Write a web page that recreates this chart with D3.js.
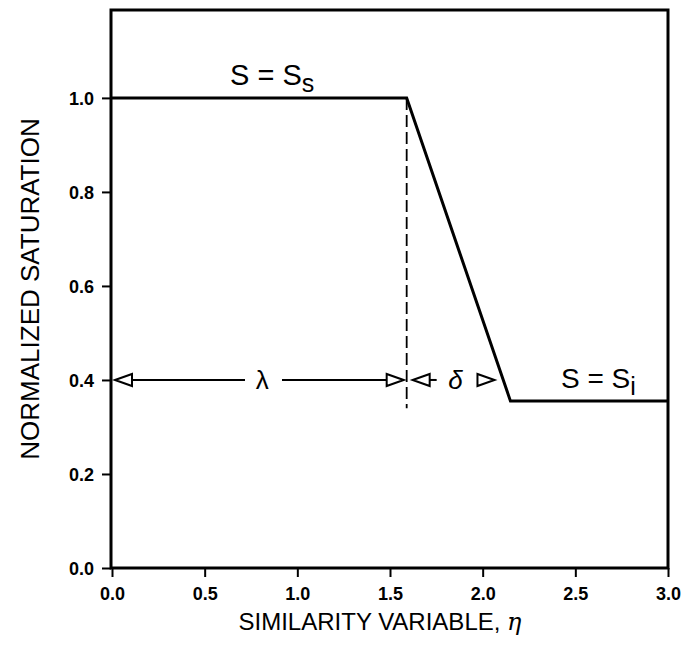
<!DOCTYPE html>
<html><head><meta charset="utf-8">
<script src="https://cdn.jsdelivr.net/npm/d3@7"></script>
<style>body{margin:0;background:#fff}</style>
</head><body><svg id="c" width="692" height="647"></svg>
<script>
const etaPts = [0.0, 1.59, 2.15, 3.0];
const satPts = [1.0, 1.0, 0.355, 0.355];
const xTicks = [0.0, 0.5, 1.0, 1.5, 2.0, 2.5, 3.0];
const yTicks = [0.0, 0.2, 0.4, 0.6, 0.8, 1.0];
const frontEta = 1.59, tailEta = 2.15, arrowSat = 0.4;

const svg = d3.select("#c");
const W = 692, H = 647;
const m = {l:111, r:24, t:10, b:79};
const x = d3.scaleLinear().domain([0,3]).range([m.l+1, W-m.r]);
const y = d3.scaleLinear().domain([0,1.187]).range([H-m.b, m.t]);
const font = "'Liberation Sans', Arial, sans-serif";

// frame
svg.append("rect").attr("x", x(0)-1).attr("y", y(1.187)).attr("width", x(3)-x(0)+1).attr("height", y(0)-y(1.187))
  .attr("fill","none").attr("stroke","#000").attr("stroke-width",3);

// axes
const xa = svg.append("g").attr("transform",`translate(0,${y(0)})`)
  .call(d3.axisBottom(x).tickValues(xTicks).tickFormat(d3.format(".1f")).tickSize(9).tickPadding(6));
const ya = svg.append("g").attr("transform",`translate(${x(0)-1},0)`)
  .call(d3.axisLeft(y).tickValues(yTicks).tickFormat(d3.format(".1f")).tickSize(9).tickPadding(8));
[xa,ya].forEach(g=>{
  g.select(".domain").remove();
  g.selectAll("line").attr("stroke","#000").attr("stroke-width",2);
  g.selectAll("text").attr("font-family",font).attr("font-size",18).attr("font-weight","bold").attr("fill","#000");
});
xa.selectAll("text").attr("dy","0.95em");
ya.selectAll("text").attr("dy","0.35em");

// curve
svg.append("path").datum(d3.zip(etaPts, satPts))
  .attr("d", d3.line().x(d=>x(d[0])).y(d=>y(d[1])))
  .attr("fill","none").attr("stroke","#000").attr("stroke-width",3).attr("stroke-linejoin","miter");

// dashed front line
svg.append("line").attr("x1",x(frontEta)).attr("x2",x(frontEta)).attr("y1",y(1.0)).attr("y2",y(0.34))
  .attr("stroke","#000").attr("stroke-width",1.8).attr("stroke-dasharray","12,5");

// arrows
function tri(tipX, yy, dir){ // dir=-1 points left, +1 points right
  const L=17, h=6;
  const bx = tipX - dir*L;
  return `M${tipX},${yy} L${bx},${yy-h} L${bx},${yy+h} Z`;
}
const ay = y(arrowSat);
const ag = svg.append("g").attr("stroke","#000").attr("fill","#fff").attr("stroke-width",2);
// lambda
ag.append("path").attr("d", tri(x(0)+3, ay, -1));
ag.append("line").attr("x1",x(0)+20).attr("x2",245).attr("y1",ay).attr("y2",ay);
ag.append("line").attr("x1",282).attr("x2",x(frontEta)-20).attr("y1",ay).attr("y2",ay);
ag.append("path").attr("d", tri(x(frontEta)-3, ay, 1));
// delta
ag.append("path").attr("d", tri(x(frontEta)+6, ay, -1));
ag.append("line").attr("x1",x(frontEta)+23).attr("x2",x(frontEta)+30).attr("y1",ay).attr("y2",ay);
ag.append("path").attr("d", tri(x(tailEta)-16, ay, 1));

const lab = svg.append("g").attr("font-family",font).attr("fill","#000");
lab.append("text").attr("x",(x(0)+x(frontEta))/2+3).attr("y",ay).attr("dy","0.35em").attr("text-anchor","middle")
  .attr("font-size",26).text("λ");
lab.append("text").attr("x",(x(frontEta)+x(tailEta))/2-3).attr("y",ay).attr("dy","0.35em").attr("text-anchor","middle")
  .attr("font-size",26).attr("font-style","italic").text("δ");

// S labels
const t1 = lab.append("text").attr("x",230).attr("y",85).attr("font-size",29);
t1.append("tspan").text("S = S");
t1.append("tspan").attr("dy",7).attr("font-size",25).text("s");
const t2 = lab.append("text").attr("x",561).attr("y",388).attr("font-size",28);
t2.append("tspan").text("S = S");
t2.append("tspan").attr("dy",7).attr("font-size",25).text("i");

// axis titles
lab.append("text").attr("x",380).attr("y",630).attr("text-anchor","middle").attr("font-size",24)
  .text("SIMILARITY VARIABLE, ").append("tspan").attr("font-style","italic").attr("font-family","'DejaVu Serif', serif").text("η");
lab.append("text").attr("transform",`translate(39,289) rotate(-90)`).attr("text-anchor","middle")
  .attr("font-size",26).text("NORMALIZED SATURATION");
</script></body></html>
